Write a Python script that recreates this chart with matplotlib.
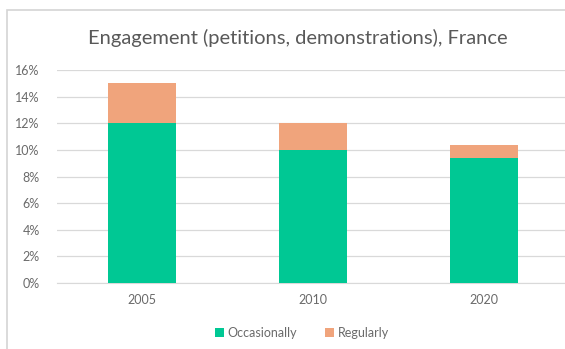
import matplotlib.pyplot as plt
from matplotlib.patches import Rectangle
from matplotlib.ticker import PercentFormatter

plt.rcParams['font.family'] = ['Lato', 'DejaVu Sans']

years = ['2005', '2010', '2020']
occasionally = [12.0, 10.0, 9.4]
regularly = [3.0, 2.0, 1.0]

green = '#00C894'
orange = '#F0A47C'
text_grey = '#595959'

fig = plt.figure(figsize=(5.65, 3.49), dpi=100)
fig.patch.set_facecolor('white')

# chart area frame (only the top and left edges are visible)
fig.add_artist(Rectangle((7 / 565, -0.1), 1.2, 1 - 10 / 349 + 0.1,
                         transform=fig.transFigure, fill=False,
                         edgecolor='#d4d4d4', linewidth=1.2))

ax = fig.add_axes([56.5 / 565, 1 - 283 / 349, 513 / 565, 213 / 349])

x = range(len(years))
ax.bar(x, occasionally, width=0.4, color=green, label='Occasionally', zorder=3)
ax.bar(x, regularly, width=0.4, bottom=occasionally, color=orange,
       label='Regularly', zorder=3)

ax.set_xlim(-0.5, 2.5)
ax.set_ylim(0, 16)
ax.set_yticks(range(0, 17, 2))
ax.yaxis.set_major_formatter(PercentFormatter(decimals=0))
ax.set_xticks(list(x))
ax.set_xticklabels(years)
ax.grid(axis='y', color='#d9d9d9', linewidth=0.9, zorder=0)
ax.tick_params(length=0, labelsize=9, colors='#6a6a6a', pad=8)
ax.tick_params(axis='y', pad=12)
for side in ['top', 'right', 'left']:
    ax.spines[side].set_visible(False)
ax.spines['bottom'].set_color('#d9d9d9')

fig.text(298 / 565, 1 - 38 / 349, 'Engagement (petitions, demonstrations), France',
         ha='center', va='center', fontsize=14.5, color=text_grey)

fig.legend(loc='center', bbox_to_anchor=(302 / 565, 1 - 333 / 349), ncol=2,
           frameon=False, fontsize=9, handlelength=0.7, handleheight=0.7,
           handletextpad=0.3, columnspacing=2.2, labelcolor='#6a6a6a')

fig.savefig('out.png', dpi=100)
